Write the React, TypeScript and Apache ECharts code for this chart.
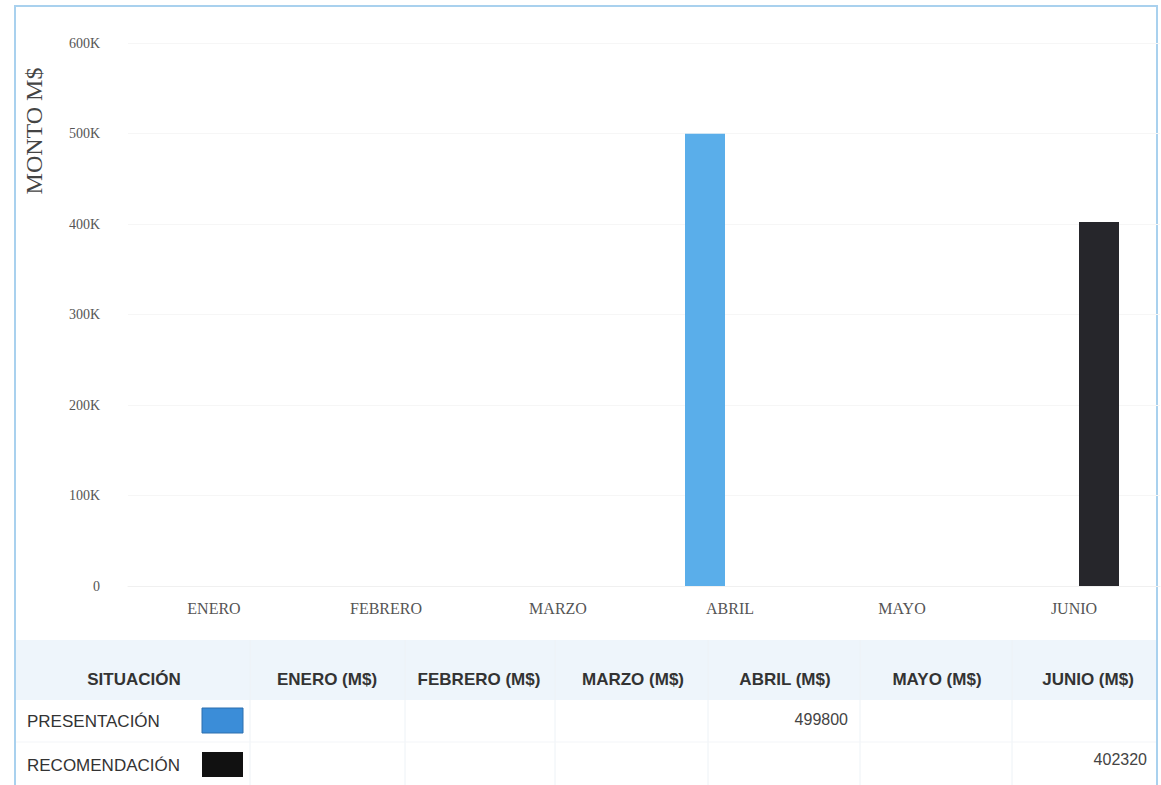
import React, { useEffect, useRef } from "react";
import * as echarts from "echarts";

const months = ["ENERO", "FEBRERO", "MARZO", "ABRIL", "MAYO", "JUNIO"];
const presentacion: (number | null)[] = [null, null, null, 499800, null, null];
const recomendacion: (number | null)[] = [null, null, null, null, null, 402320];
const yTicks = [0, 100000, 200000, 300000, 400000, 500000, 600000];
const tableHeaders = ["SITUACIÓN", "ENERO (M$)", "FEBRERO (M$)", "MARZO (M$)", "ABRIL (M$)", "MAYO (M$)", "JUNIO (M$)"];

export default function App() {
  const ref = useRef<HTMLDivElement>(null);
  useEffect(() => {
    if (!ref.current) return;
    const chart = echarts.init(ref.current, null, { renderer: "svg" });
    const headerX = [134, 327, 479, 633, 785, 937, 1088];
    const sepX = [250, 405, 555, 708, 860, 1012];
    const valueRight = [0, 0, 0, 848, 0, 1147];
    const fmt = (v: number | null) => (v == null ? "" : String(v));
    const graphic: any[] = [
      { type: "rect", shape: { x: 15, y: 6, width: 1142, height: 790 }, style: { fill: "none", stroke: "#a9d1ee", lineWidth: 2 }, z: 0 },
      { type: "rect", shape: { x: 16, y: 640, width: 1140, height: 60 }, style: { fill: "#eef5fb" }, z: 0 },
      { type: "text", x: 34, y: 131, rotation: Math.PI / 2, style: { text: "MONTO M$", font: "24px 'Liberation Serif'", fill: "#444", align: "center", verticalAlign: "middle" } },
      ...sepX.map((x) => ({ type: "line", shape: { x1: x, y1: 640, x2: x, y2: 785 }, style: { stroke: "#edf2f6", lineWidth: 1 } })),
      { type: "line", shape: { x1: 16, y1: 742, x2: 1156, y2: 742 }, style: { stroke: "#f3f5f8", lineWidth: 1 } },
      ...tableHeaders.map((h, i) => ({ type: "text", x: headerX[i], y: 679, style: { text: h, font: "bold 17px 'Liberation Sans'", fill: "#333", align: "center", verticalAlign: "middle" } })),
      { type: "text", x: 27, y: 721, style: { text: "PRESENTACIÓN", font: "17px 'Liberation Sans'", fill: "#333", align: "left", verticalAlign: "middle" } },
      { type: "rect", shape: { x: 202, y: 708, width: 41, height: 25 }, style: { fill: "#3b8dd8", stroke: "#2d6fae", lineWidth: 1 } },
      { type: "text", x: 27, y: 765, style: { text: "RECOMENDACIÓN", font: "17px 'Liberation Sans'", fill: "#333", align: "left", verticalAlign: "middle" } },
      { type: "rect", shape: { x: 202, y: 752, width: 41, height: 25 }, style: { fill: "#111111" } },
    ];
    presentacion.forEach((v, i) => {
      if (v != null) graphic.push({ type: "text", x: valueRight[i], y: 719, style: { text: fmt(v), font: "16px 'Liberation Sans'", fill: "#444", align: "right", verticalAlign: "middle" } });
    });
    recomendacion.forEach((v, i) => {
      if (v != null) graphic.push({ type: "text", x: valueRight[i], y: 759, style: { text: fmt(v), font: "16px 'Liberation Sans'", fill: "#444", align: "right", verticalAlign: "middle" } });
    });
    chart.setOption({
      animation: false,
      backgroundColor: "#ffffff",
      grid: { left: 128, right: 1, top: 43, bottom: 199, containLabel: false },
      xAxis: {
        type: "category",
        data: months,
        axisLine: { show: true, lineStyle: { color: "#f0f0f0" } },
        axisTick: { show: false },
        axisLabel: { color: "#555", fontFamily: "Liberation Serif", fontSize: 16, margin: 14 },
      },
      yAxis: {
        type: "value",
        min: yTicks[0],
        max: yTicks[yTicks.length - 1],
        interval: 100000,
        axisLine: { show: false },
        axisTick: { show: false },
        splitLine: { lineStyle: { color: "#f6f6f6" } },
        axisLabel: {
          color: "#555",
          fontFamily: "Liberation Serif",
          fontSize: 14,
          margin: 28,
          formatter: (v: number) => (v === 0 ? "0" : v / 1000 + "K"),
        },
      },
      series: [
        { name: "PRESENTACIÓN", type: "bar", data: presentacion, barWidth: 40, barGap: "25%", itemStyle: { color: "#5aaeea" } },
        { name: "RECOMENDACIÓN", type: "bar", data: recomendacion, barWidth: 40, itemStyle: { color: "#26262b" } },
      ],
      graphic,
    });
    return () => chart.dispose();
  }, []);
  return <div ref={ref} style={{ position: "absolute", left: 0, top: 0, width: 1161, height: 785 }} />;
}
